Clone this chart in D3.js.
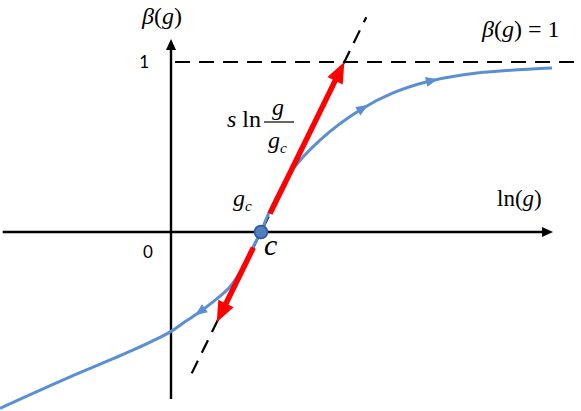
<!DOCTYPE html>
<html><head><meta charset="utf-8">
<script src="https://cdn.jsdelivr.net/npm/d3@7"></script>
<style>body{margin:0;background:#fff}svg{display:block}</style>
</head><body>
<svg id="chart" width="581" height="411"></svg>
<script>
// ---- data (schematic beta function, x = ln g, y = beta) ----
const flowX    = [-1.90, -1.159, -0.419, -0.003, 0.155, 0.322, 0.470, 0.656, 0.803, 0.933, 1.00, 1.067, 1.322, 1.656, 2.10, 2.467, 2.878, 3.40, 4.233];
const flowBeta = [-1.037, -0.861, -0.694, -0.586, -0.528, -0.469, -0.410, -0.322, -0.204, -0.066, 0.00, 0.088, 0.347, 0.541, 0.718, 0.818, 0.888, 0.935, 0.965];
const flowArrowX   = [0.322, 2.133, 2.90];
const flowArrowDir = [-1, 1, 1];
const criticalX = 1;          // g_c (point c)
const slopeS = 1.08;          // tangent slope s
const tangentX = [0.23, 2.17];
const redUpX   = [1.10, 1 + 1 / 1.08];
const redDownX = [0.915, 0.508];
const fixedBeta = 1;          // beta(g) = 1 asymptote
const yTickLabels = ["1"];
const xTickLabels = ["0"];
const xAxisExtent = [-1.87, 4.245];
const yAxisExtent = [-0.982, 1.135];
const asymptoteStart = 0.045;

// ---- scales ----
const x = d3.scaleLinear().domain([0, 1]).range([171, 261]);
const y = d3.scaleLinear().domain([0, 1]).range([232, 62]);
const svg = d3.select("#chart");
const serif = "'Liberation Serif','Times New Roman',serif";
const sans = "Lato,'Open Sans',sans-serif";

function arrowHead(g, tip, dir, len, half, color) {
  const nx = -dir[1], ny = dir[0];
  const bx = tip[0] - dir[0] * len, by = tip[1] - dir[1] * len;
  g.append("path")
    .attr("d", `M${tip[0]},${tip[1]}L${bx + nx * half},${by + ny * half}L${bx - nx * half},${by - ny * half}Z`)
    .attr("fill", color);
}

// dashed asymptote beta = 1
svg.append("line")
  .attr("x1", x(asymptoteStart)).attr("x2", 581)
  .attr("y1", y(fixedBeta)).attr("y2", y(fixedBeta))
  .attr("stroke", "#000").attr("stroke-width", 2.2).attr("stroke-dasharray", "15,9");

// dashed tangent line
svg.append("line")
  .attr("x1", x(tangentX[0])).attr("y1", y(slopeS * (tangentX[0] - criticalX)))
  .attr("x2", x(tangentX[1])).attr("y2", y(slopeS * (tangentX[1] - criticalX)))
  .attr("stroke", "#000").attr("stroke-width", 2.2).attr("stroke-dasharray", "14,9");

// axes
const axes = svg.append("g");
axes.append("line").attr("x1", x(xAxisExtent[0])).attr("x2", x(xAxisExtent[1]) - 8)
  .attr("y1", y(0)).attr("y2", y(0)).attr("stroke", "#000").attr("stroke-width", 2.4);
arrowHead(axes, [x(xAxisExtent[1]), y(0)], [1, 0], 11, 5, "#000");
axes.append("line").attr("x1", x(0)).attr("x2", x(0))
  .attr("y1", y(yAxisExtent[0])).attr("y2", y(yAxisExtent[1]) + 8)
  .attr("stroke", "#000").attr("stroke-width", 2.4);
arrowHead(axes, [x(0), y(yAxisExtent[1])], [0, -1], 11, 5, "#000");

// blue flow curve
const pts = flowX.map((v, i) => [x(v), y(flowBeta[i])]);
const line = d3.line().curve(d3.curveCatmullRom.alpha(0.5));
const flowPath = svg.append("path").attr("d", line(pts))
  .attr("fill", "none").attr("stroke", "#5b8fd4").attr("stroke-width", 3);
const node = flowPath.node();
const total = node.getTotalLength();
flowArrowX.forEach((ax, i) => {
  const px = x(ax);
  let lo = 0, hi = total;
  for (let k = 0; k < 40; k++) {
    const mid = (lo + hi) / 2;
    if (node.getPointAtLength(mid).x < px) lo = mid; else hi = mid;
  }
  const L = (lo + hi) / 2;
  const a = node.getPointAtLength(Math.max(0, L - 2)), b = node.getPointAtLength(Math.min(total, L + 2));
  let dx = b.x - a.x, dy = b.y - a.y;
  const n = Math.hypot(dx, dy);
  dx = dx / n * flowArrowDir[i]; dy = dy / n * flowArrowDir[i];
  const p = node.getPointAtLength(L);
  arrowHead(svg, [p.x + dx * 6, p.y + dy * 6], [dx, dy], 12, 5, "#5b8fd4");
});

// red tangent arrows
function redArrow(xs) {
  const p0 = [x(xs[0]), y(slopeS * (xs[0] - criticalX))];
  const p1 = [x(xs[1]), y(slopeS * (xs[1] - criticalX))];
  let dx = p1[0] - p0[0], dy = p1[1] - p0[1];
  const n = Math.hypot(dx, dy); dx /= n; dy /= n;
  svg.append("line").attr("x1", p0[0]).attr("y1", p0[1])
    .attr("x2", p1[0] - dx * 16).attr("y2", p1[1] - dy * 16)
    .attr("stroke", "#ff0000").attr("stroke-width", 5.5);
  arrowHead(svg, p1, [dx, dy], 21, 8.5, "#ff0000");
}
redArrow(redUpX);
redArrow(redDownX);

// critical point c
svg.append("circle").attr("cx", x(criticalX)).attr("cy", y(0)).attr("r", 6.5)
  .attr("fill", "#4f7fc0").attr("stroke", "#2f5597").attr("stroke-width", 1.5);

// ---- text ----
function mathText(tx, ty, size, parts, anchor) {
  const t = svg.append("text").attr("x", tx).attr("y", ty)
    .attr("font-family", serif).attr("font-size", size).attr("fill", "#000")
    .attr("text-anchor", anchor || "start");
  parts.forEach(p => {
    const s = t.append("tspan").text(p.t);
    if (p.i) s.attr("font-style", "italic");
    if (p.sub) s.attr("font-size", p.sub).attr("dy", p.dy || 0);
    if (p.dy && !p.sub) s.attr("dy", p.dy);
    if (p.dx) s.attr("dx", p.dx);
  });
  return t;
}
mathText(142, 24, 24, [{t: "β", i: 1}, {t: "("}, {t: "g", i: 1}, {t: ")"}]);
mathText(482, 37, 24, [{t: "β", i: 1}, {t: "("}, {t: "g", i: 1}, {t: ")"}, {t: " = ", }, {t: "1"}]);
mathText(497, 206, 23, [{t: "ln("}, {t: "g", i: 1}, {t: ")"}]);
mathText(227, 127, 24, [{t: "s", i: 1}, {t: " ln"}]);
mathText(278, 115, 24, [{t: "g", i: 1}], "middle");
svg.append("line").attr("x1", 264).attr("x2", 294).attr("y1", 122).attr("y2", 122)
  .attr("stroke", "#000").attr("stroke-width", 1.2);
mathText(268, 148, 24, [{t: "g", i: 1}, {t: "c", i: 1, sub: 15, dy: 5}]);
mathText(233, 206, 24, [{t: "g", i: 1}, {t: "c", i: 1, sub: 15, dy: 5}]);
mathText(264, 255, 30, [{t: "c", i: 1}]);

svg.selectAll(".ytick").data(yTickLabels).enter().append("text")
  .attr("x", 149).attr("y", d => y(+d) + 6).attr("text-anchor", "end")
  .attr("font-family", sans).attr("font-size", 17).text(d => d);
svg.selectAll(".xtick").data(xTickLabels).enter().append("text")
  .attr("x", 148).attr("y", d => y(+d) + 26).attr("text-anchor", "middle")
  .attr("font-family", sans).attr("font-size", 17).text(d => d);
</script>
</body></html>
